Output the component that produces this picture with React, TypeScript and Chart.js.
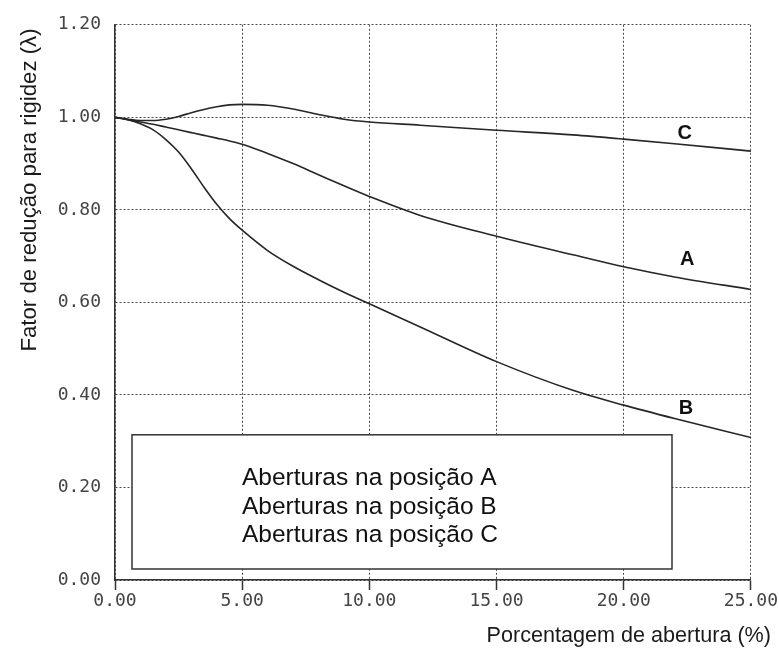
import React, { useEffect, useRef } from "react";
import { Chart, registerables } from "chart.js";

Chart.register(...registerables);

// ---- data ----
const xValues = [0, 0.5, 1, 1.5, 2, 2.5, 3, 3.5, 4, 4.5, 5, 6, 7, 8, 9, 10, 12, 15, 18, 20, 22, 25];
const seriesA = [1.0, 0.995, 0.99, 0.985, 0.979, 0.973, 0.967, 0.961, 0.955, 0.949, 0.942, 0.922, 0.9, 0.876, 0.852, 0.829, 0.788, 0.743, 0.703, 0.677, 0.655, 0.628];
const seriesB = [1.0, 0.995, 0.986, 0.973, 0.952, 0.925, 0.889, 0.849, 0.812, 0.781, 0.756, 0.712, 0.678, 0.649, 0.622, 0.597, 0.547, 0.472, 0.41, 0.378, 0.349, 0.308];
const seriesC = [1.0, 0.996, 0.993, 0.993, 0.996, 1.002, 1.01, 1.017, 1.023, 1.027, 1.028, 1.026, 1.018, 1.006, 0.996, 0.99, 0.983, 0.972, 0.962, 0.953, 0.943, 0.927];
const curveNames = ["A", "B", "C"];
const curveLabelX = [22.5, 22.45, 22.4];
const curveLabelY = [0.693, 0.371, 0.966];
const legendLines = ["Aberturas na posição A", "Aberturas na posição B", "Aberturas na posição C"];
const xTitle = "Porcentagem de abertura (%)";
const yTitle = "Fator de redução para rigidez (λ)";

const toPoints = (ys: number[]) => xValues.map((x, i) => ({ x, y: ys[i] }));

const overlayPlugin = {
  id: "overlay",
  afterDraw(chart: any) {
    const ctx = chart.ctx as CanvasRenderingContext2D;
    const ca = chart.chartArea;
    const xS = chart.scales.x;
    const yS = chart.scales.y;
    ctx.save();

    // legend-like box
    const bl = ca.left + 17;
    const bt = ca.top + 410;
    const br = ca.left + 557;
    const bb = ca.bottom - 11;
    ctx.fillStyle = "#ffffff";
    ctx.fillRect(bl, bt, br - bl, bb - bt);
    ctx.strokeStyle = "#333333";
    ctx.lineWidth = 1.5;
    ctx.strokeRect(bl, bt, br - bl, bb - bt);
    ctx.fillStyle = "#111111";
    ctx.font = "24.5px 'Liberation Sans', Arial, sans-serif";
    ctx.textAlign = "left";
    ctx.textBaseline = "alphabetic";
    legendLines.forEach((t, i) => {
      ctx.fillText(t, ca.left + 127, ca.top + 460.5 + i * 28.4);
    });

    // curve labels
    ctx.font = "bold 20px 'Liberation Sans', Arial, sans-serif";
    ctx.textAlign = "center";
    ctx.textBaseline = "middle";
    ctx.fillStyle = "#111111";
    curveNames.forEach((n, i) => {
      ctx.fillText(n, xS.getPixelForValue(curveLabelX[i]), yS.getPixelForValue(curveLabelY[i]));
    });

    // axis titles
    ctx.font = "21.6px 'Liberation Sans', Arial, sans-serif";
    ctx.fillStyle = "#1a1a1a";
    ctx.textAlign = "right";
    ctx.textBaseline = "alphabetic";
    ctx.fillText(xTitle, chart.width - 8, chart.height - 6);

    ctx.save();
    ctx.font = "22.2px 'Liberation Sans', Arial, sans-serif";
    ctx.translate(36, 190);
    ctx.rotate(-Math.PI / 2);
    ctx.textAlign = "center";
    ctx.fillText(yTitle, 0, 0);
    ctx.restore();

    ctx.restore();
  },
};

export default function App() {
  const ref = useRef<HTMLCanvasElement>(null);
  useEffect(() => {
    if (!ref.current) return;
    const lineStyle = {
      borderColor: "#262626",
      borderWidth: 1.6,
      pointRadius: 0,
      fill: false,
      cubicInterpolationMode: "monotone" as const,
    };
    const chart = new Chart(ref.current, {
      type: "line",
      data: {
        datasets: [
          { label: "A", data: toPoints(seriesA), ...lineStyle },
          { label: "B", data: toPoints(seriesB), ...lineStyle },
          { label: "C", data: toPoints(seriesC), ...lineStyle },
        ],
      },
      options: {
        animation: false,
        responsive: false,
        devicePixelRatio: 1,
        layout: { padding: { top: 21, right: 28, left: 0, bottom: 0 } },
        plugins: { legend: { display: false }, tooltip: { enabled: false } },
        scales: {
          x: {
            type: "linear",
            min: 0,
            max: 25,
            afterFit: (s: any) => {
              s.height = 68;
            },
            ticks: {
              stepSize: 5,
              padding: 1,
              color: "#444",
              font: { family: "'DejaVu Sans Mono', monospace", size: 18 },
              callback: (v: any) => Number(v).toFixed(2),
            },
            grid: {
              color: "#4a4a4a",
              lineWidth: 1,
              drawTicks: true,
              tickLength: 10,
              tickColor: "#333",
              tickWidth: 1.5,
              tickBorderDash: [],
            },
            border: { display: true, color: "#333", width: 1.5, dash: [2, 2] },
          },
          y: {
            type: "linear",
            min: 0,
            max: 1.2,
            afterFit: (s: any) => {
              s.width = 115;
            },
            ticks: {
              stepSize: 0.2,
              padding: 14,
              color: "#444",
              font: { family: "'DejaVu Sans Mono', monospace", size: 18 },
              callback: (v: any) => Number(v).toFixed(2),
            },
            grid: {
              color: "#4a4a4a",
              lineWidth: 1,
              drawTicks: false,
            },
            border: { display: true, color: "#333", width: 1.5, dash: [2, 2] },
          },
        },
      },
      plugins: [overlayPlugin],
    });
    return () => chart.destroy();
  }, []);
  return (
    <div style={{ position: "absolute", left: 0, top: 0, width: 779, height: 648, background: "#fff" }}>
      <canvas ref={ref} width={779} height={648} style={{ display: "block" }} />
    </div>
  );
}
